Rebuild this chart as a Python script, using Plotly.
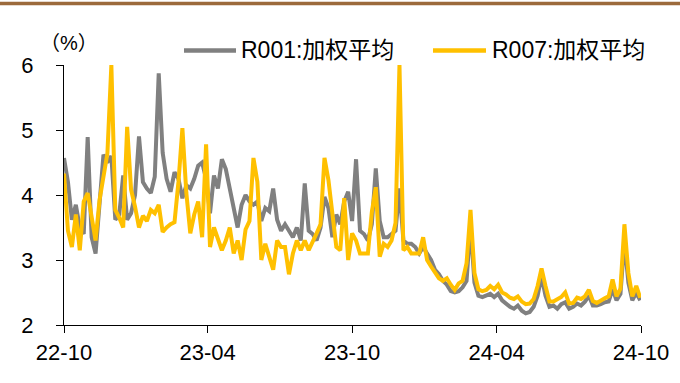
import pandas as pd
import plotly.graph_objects as go

# ---- data (one point every 5 days) ----
start_date = "2022-10-01"
step = "5D"

r007 = [
    4.33, 3.45, 3.2, 3.7, 3.15, 3.9, 4.03, 3.62, 3.3, 3.92,
    4.33, 4.64, 6.0, 3.77, 3.65, 3.5, 5.05, 4.08, 3.82, 3.5,
    3.68, 3.6, 3.77, 3.72, 3.85, 3.43, 3.5, 3.55, 3.58, 4.2,
    5.03, 4.03, 3.41, 3.7, 3.9, 3.35, 4.78, 3.2, 3.5, 3.3,
    3.15, 3.3, 3.5, 3.1, 3.3, 3.0, 3.47, 3.6, 4.57, 4.2,
    3.0, 3.25, 3.05, 2.85, 3.3, 3.2, 3.2, 2.78, 3.1, 3.3,
    3.15, 3.3, 3.15, 3.3, 3.41, 3.55, 4.57, 4.23, 3.72, 3.2,
    3.15, 3.95, 3.0, 3.41, 3.3, 3.1, 3.1, 3.1, 3.74, 4.12,
    3.05, 3.25, 3.2, 3.3, 3.57, 6.0, 3.15, 3.2, 3.1, 3.1,
    3.1, 3.35, 3.0, 2.9, 2.8, 2.72, 2.68, 2.72, 2.62, 2.54,
    2.64, 2.68, 2.95, 3.77, 2.8, 2.55, 2.52, 2.54, 2.6, 2.55,
    2.62, 2.5, 2.47, 2.42, 2.4, 2.44, 2.36, 2.32, 2.33, 2.4,
    2.6, 2.87, 2.6, 2.36, 2.36, 2.4, 2.43, 2.5, 2.33, 2.34,
    2.42, 2.4, 2.44, 2.54, 2.37, 2.34, 2.38, 2.41, 2.44, 2.7,
    2.44, 2.56, 3.55, 2.8, 2.44, 2.6, 2.42,
]

r001 = [
    4.57, 4.2, 3.62, 3.85, 3.5, 3.4, 4.89, 3.35, 3.1, 3.97,
    4.62, 4.5, 4.6, 3.62, 3.7, 4.3, 3.62, 3.72, 4.0, 4.9,
    4.2, 4.1, 4.03, 4.28, 5.87, 4.65, 4.25, 4.05, 4.35, 4.25,
    3.95, 4.15, 4.1, 4.25, 4.45, 4.5, 4.25, 3.72, 4.3, 4.1,
    4.55, 4.4, 4.1, 3.85, 3.5, 3.85, 4.0, 3.9, 3.85, 3.9,
    3.6, 3.8, 3.75, 4.1, 3.62, 3.45, 3.55, 3.45, 3.35, 3.5,
    3.3, 4.18, 3.45, 3.4, 3.3, 3.5, 3.97, 3.8, 3.35, 3.7,
    3.55, 3.9, 4.05, 3.6, 4.55, 3.45, 3.4, 3.3, 3.55, 4.41,
    3.6, 3.35, 3.35, 3.4, 3.45, 4.1, 3.3, 3.25, 3.25, 3.2,
    3.1, 3.2, 3.1, 3.0, 2.85, 2.78, 2.68, 2.62, 2.52, 2.5,
    2.52, 2.58, 2.68, 3.55, 2.65, 2.45, 2.43, 2.45, 2.48, 2.43,
    2.48, 2.38, 2.33, 2.28, 2.25, 2.3, 2.22, 2.18, 2.2, 2.28,
    2.45, 2.75, 2.45, 2.28, 2.3, 2.25, 2.32, 2.35, 2.25, 2.28,
    2.33, 2.3, 2.36, 2.45, 2.3, 2.3, 2.32, 2.35, 2.36, 2.55,
    2.38, 2.48, 3.3, 2.65, 2.38, 2.5, 2.38,
]

dates = pd.date_range(start_date, periods=len(r007), freq=step)

tick_dates = ["2022-10-01", "2023-04-01", "2023-10-01", "2024-04-01", "2024-10-01"]
tick_labels = ["22-10", "23-04", "23-10", "24-04", "24-10"]
y_ticks = [2, 3, 4, 5, 6]

name_r001 = "R001:加权平均"
name_r007 = "R007:加权平均"
unit_label = "（%）"

GRAY = "#808080"
GOLD = "#FFC000"
FONT = "Liberation Sans, Arial, Noto Sans CJK SC, sans-serif"

fig = go.Figure()
fig.add_trace(go.Scatter(x=dates, y=r001, mode="lines", name=name_r001,
                         line=dict(color=GRAY, width=4), showlegend=False))
fig.add_trace(go.Scatter(x=dates, y=r007, mode="lines", name=name_r007,
                         line=dict(color=GOLD, width=4), showlegend=False))

W, H = 680, 383
L, R, T, B = 64, 39, 65, 58
pw, ph = W - L - R, H - T - B


def px(x):
    return (x - L) / pw


def py(y):
    return (H - B - y) / ph


fig.update_layout(
    width=W, height=H,
    margin=dict(l=L, r=R, t=T, b=B),
    paper_bgcolor="white", plot_bgcolor="white",
    font=dict(family=FONT, color="black", size=22),
    xaxis=dict(
        type="date", range=[tick_dates[0], tick_dates[-1]],
        tickvals=tick_dates, ticktext=tick_labels,
        showline=True, linecolor="black", linewidth=1.3,
        ticks="outside", ticklen=7, tickwidth=1.3, tickcolor="black",
        showgrid=False, zeroline=False, automargin=False,
        tickfont=dict(size=22, family=FONT),
    ),
    yaxis=dict(
        range=[2, 6], tickvals=y_ticks,
        showline=True, linecolor="black", linewidth=1.3,
        ticks="outside", ticklen=7, tickwidth=1.3, tickcolor="black",
        showgrid=False, zeroline=False, automargin=False,
        tickfont=dict(size=22, family=FONT),
        ticklabelstandoff=18,
    ),
)

# top brown rule
fig.add_shape(type="line", xref="paper", yref="paper",
              x0=px(0), x1=px(W), y0=py(3.5), y1=py(3.5),
              line=dict(color="#9C6A3C", width=3.5))

# manual legend
ly = py(50.5)
fig.add_shape(type="line", xref="paper", yref="paper",
              x0=px(184), x1=px(236), y0=ly, y1=ly,
              line=dict(color=GRAY, width=4.5))
fig.add_annotation(xref="paper", yref="paper", x=px(239), y=ly,
                   text=name_r001, showarrow=False, xanchor="left", yanchor="middle",
                   font=dict(size=23, family=FONT, color="black"))
fig.add_shape(type="line", xref="paper", yref="paper",
              x0=px(433), x1=px(486), y0=ly, y1=ly,
              line=dict(color=GOLD, width=4.5))
fig.add_annotation(xref="paper", yref="paper", x=px(490), y=ly,
                   text=name_r007, showarrow=False, xanchor="left", yanchor="middle",
                   font=dict(size=23, family=FONT, color="black"))

# unit label
fig.add_annotation(xref="paper", yref="paper", x=px(68.5), y=py(43),
                   text=unit_label, showarrow=False, xanchor="center", yanchor="middle",
                   font=dict(size=20, family=FONT, color="black"))

fig.write_html("out.html",
               config={"displayModeBar": False},
               post_script="document.body.style.margin='0px';document.body.style.overflow='hidden';")
